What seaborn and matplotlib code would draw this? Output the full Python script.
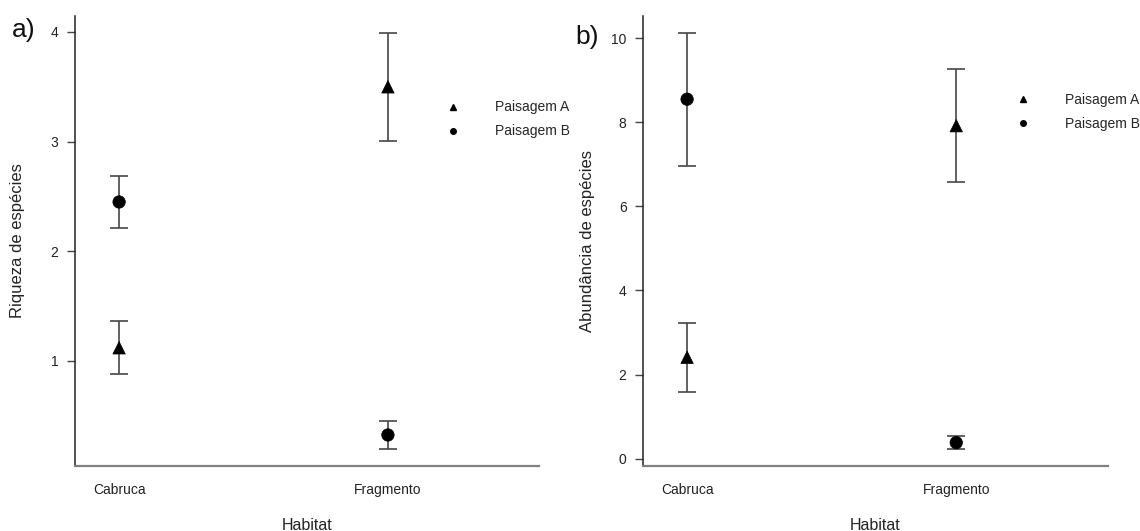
import matplotlib
matplotlib.use("Agg")
import matplotlib.pyplot as plt
from matplotlib.lines import Line2D
import pandas as pd
import seaborn as sns

# values (mean and error bar half-width)
habitats = ["Cabruca", "Fragmento"]
landscapes = ["Paisagem A", "Paisagem B"]

riqueza_a = [1.12, 3.50]
riqueza_a_err = [0.243, 0.49]
riqueza_b = [2.45, 0.325]
riqueza_b_err = [0.235, 0.128]

abund_a = [2.41, 7.92]
abund_a_err = [0.82, 1.34]
abund_b = [8.55, 0.38]
abund_b_err = [1.58, 0.157]

markers = {"Paisagem A": "^", "Paisagem B": "o"}


def make_frame(a, a_err, b, b_err):
    rows = []
    for h, m, e in zip(habitats, a, a_err):
        rows.append({"habitat": h, "paisagem": "Paisagem A", "mean": m, "err": e})
    for h, m, e in zip(habitats, b, b_err):
        rows.append({"habitat": h, "paisagem": "Paisagem B", "mean": m, "err": e})
    return pd.DataFrame(rows)


sns.set_theme(style="white")
plt.rcParams["font.family"] = ["Liberation Sans", "DejaVu Sans"]

fig = plt.figure(figsize=(11.4, 5.31), dpi=100)
ax_a = fig.add_axes([0.0658, 0.1224, 0.4070, 0.8475])
ax_b = fig.add_axes([0.5640, 0.1224, 0.4075, 0.8475])


def draw_panel(ax, df, ylabel, ylim, yticks, legend_anchor, label_x):
    for p in landscapes:
        sub = df[df["paisagem"] == p]
        ax.errorbar(sub["habitat"], sub["mean"], yerr=sub["err"], fmt="none",
                    ecolor="#474747", elinewidth=1.2, capsize=6.2, capthick=1.2,
                    zorder=1)
    sns.scatterplot(data=df, x="habitat", y="mean", style="paisagem",
                    markers=markers, color="black", s=80, edgecolor="black",
                    linewidth=0.5, legend=False, ax=ax, zorder=3)

    ax.set_xlim(-0.164, 1.562)
    ax.set_ylim(*ylim)
    ax.set_yticks(yticks)
    ax.set_yticklabels([str(t) for t in yticks])

    for s in ["top", "right"]:
        ax.spines[s].set_visible(False)
    ax.spines["left"].set_color("#222222")
    ax.spines["left"].set_linewidth(1.1)
    ax.spines["bottom"].set_color("#808080")
    ax.spines["bottom"].set_linewidth(1.6)

    ax.tick_params(axis="y", length=5.8, width=1.0, color="#444444", pad=6,
                   labelsize=10, labelcolor="#222222", left=True)
    ax.tick_params(axis="x", length=0, pad=12, labelsize=10, labelcolor="#222222")

    ax.set_xlabel("Habitat", fontsize=11.5, color="#222222")
    ax.set_ylabel(ylabel, fontsize=12, color="#222222")
    ax.xaxis.set_label_coords(0.5, -0.115)
    ax.yaxis.set_label_coords(label_x, 0.5)

    handles = [Line2D([], [], marker=markers[p], linestyle="none", color="black",
                      markersize=4) for p in landscapes]
    ax.legend(handles, landscapes, loc="center left", bbox_to_anchor=legend_anchor,
              frameon=False, fontsize=10, handlelength=1.0, handletextpad=2.5,
              labelspacing=0.72, borderpad=0, borderaxespad=0)


draw_panel(ax_a, make_frame(riqueza_a, riqueza_a_err, riqueza_b, riqueza_b_err),
           "Riqueza de espécies", (0.042, 4.146), [1, 2, 3, 4], (0.80, 0.77), -0.108)
draw_panel(ax_b, make_frame(abund_a, abund_a_err, abund_b, abund_b_err),
           "Abundância de espécies", (-0.176, 10.53), [0, 2, 4, 6, 8, 10],
           (0.803, 0.786), -0.104)

fig.text(0.010, 0.966, "a)", fontsize=19, va="top", ha="left", color="#111111")
fig.text(0.505, 0.952, "b)", fontsize=19, va="top", ha="left", color="#111111")

fig.savefig("out.png", dpi=100)
